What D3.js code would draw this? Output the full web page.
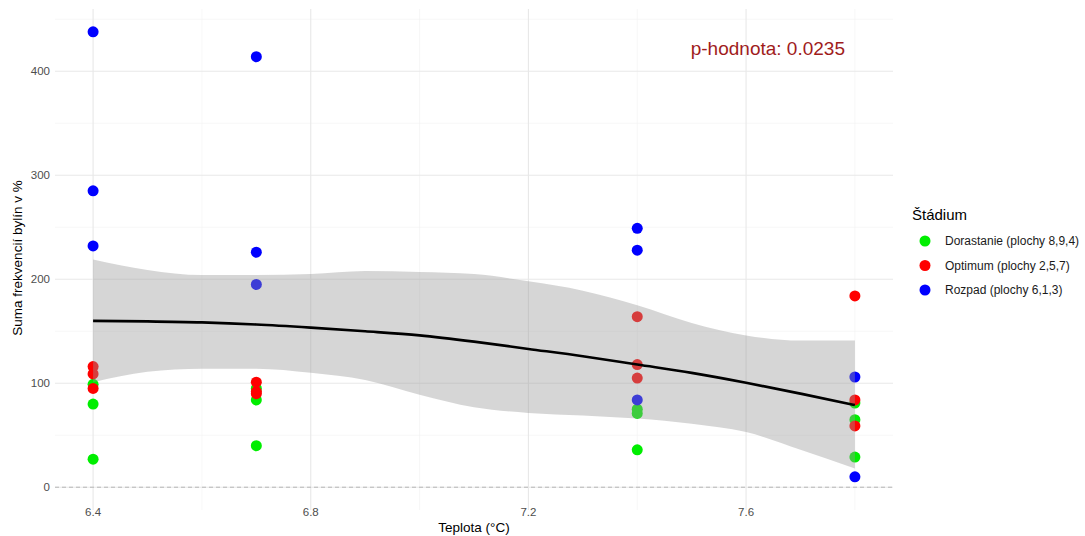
<!DOCTYPE HTML>
<html>
	<head>
		<title>Suma frekvencií bylín</title>
		<meta charset="UTF8">
		<script src="https://d3js.org/d3.v7.min.js"></script>
		<style>
			body
			{
				margin: 0;
				padding: 0;
				background: white;
				font-family: "Liberation Sans", Arial, sans-serif;
			}
		</style>
	</head>
	<body>
		<svg></svg>
	<script>
		const w = 1085;
		const h = 536;

		// values
		const stadia = ["Dorastanie (plochy 8,9,4)", "Optimum (plochy 2,5,7)", "Rozpad (plochy 6,1,3)"];
		const stadiumColors = ["#00ee00", "#ff0000", "#0000ff"];
		const dorastanie = [
			[6.4, 99], [6.4, 80], [6.4, 27],
			[6.7, 95], [6.7, 84], [6.7, 40],
			[7.4, 75], [7.4, 71], [7.4, 36],
			[7.8, 81], [7.8, 65], [7.8, 29]
		];
		const optimum = [
			[6.4, 116], [6.4, 109], [6.4, 95],
			[6.7, 101], [6.7, 92], [6.7, 90],
			[7.4, 164], [7.4, 118], [7.4, 105],
			[7.8, 184], [7.8, 84], [7.8, 59]
		];
		const rozpad = [
			[6.4, 438], [6.4, 285], [6.4, 232],
			[6.7, 414], [6.7, 226], [6.7, 195],
			[7.4, 249], [7.4, 228], [7.4, 84],
			[7.8, 106], [7.8, 10]
		];
		// loess fit with confidence band
		const fitX = [6.4, 6.5, 6.6, 6.7, 6.8, 6.9, 7.0, 7.1, 7.2, 7.3, 7.4, 7.5, 7.6, 7.7, 7.8];
		const fitY = [160, 159.5, 158.5, 156.5, 153.5, 150, 146, 140, 133, 126, 118, 110, 100.5, 90, 79];
		const fitUpper = [219, 209, 204, 204, 205, 208, 207, 205, 198, 189, 175, 158, 146, 141, 141];
		const fitLower = [101, 111, 114, 114, 110, 103, 89, 77, 71.5, 69, 66, 61, 53, 36, 18];
		const xTicks = [6.4, 6.8, 7.2, 7.6];
		const xMinor = [6.6, 7.0, 7.4, 7.8];
		const yTicks = [0, 100, 200, 300, 400];
		const yMinor = [50, 150, 250, 350, 450];
		const pLabel = "p-hodnota: 0.0235";

		const svg = d3.select("svg").attr("width", w).attr("height", h);

		const x = d3.scaleLinear().domain([6.33, 7.87]).range([55, 893]);
		const y = d3.scaleLinear().domain([-21.9, 459.9]).range([510, 9]);

		const grid = svg.append("g");
		grid.selectAll(".ymin").data(yMinor.filter(d => d < 459)).enter().append("line")
			.attr("x1", 55).attr("x2", 893)
			.attr("y1", d => y(d)).attr("y2", d => y(d))
			.attr("stroke", "#f2f2f2").attr("stroke-width", 0.6);
		grid.selectAll(".xmin").data(xMinor).enter().append("line")
			.attr("y1", 9).attr("y2", 510)
			.attr("x1", d => x(d)).attr("x2", d => x(d))
			.attr("stroke", "#f2f2f2").attr("stroke-width", 0.6);
		grid.selectAll(".ymaj").data(yTicks).enter().append("line")
			.attr("x1", 55).attr("x2", 893)
			.attr("y1", d => y(d)).attr("y2", d => y(d))
			.attr("stroke", "#e8e8e8").attr("stroke-width", 1.1);
		grid.selectAll(".xmaj").data(xTicks).enter().append("line")
			.attr("y1", 9).attr("y2", 510)
			.attr("x1", d => x(d)).attr("x2", d => x(d))
			.attr("stroke", "#e8e8e8").attr("stroke-width", 1.1);

		// dashed zero line
		svg.append("line")
			.attr("x1", 55).attr("x2", 893)
			.attr("y1", y(0)).attr("y2", y(0))
			.attr("stroke", "#b8b8b8").attr("stroke-width", 1)
			.attr("stroke-dasharray", "4,3");

		// axis labels
		svg.append("g").selectAll("text").data(xTicks).enter().append("text")
			.attr("x", d => x(d)).attr("y", 516)
			.attr("text-anchor", "middle")
			.attr("font-size", "11.5px").attr("fill", "#4d4d4d")
			.text(d => d.toFixed(1));
		svg.append("g").selectAll("text").data(yTicks).enter().append("text")
			.attr("x", 50).attr("y", d => y(d) + 4)
			.attr("text-anchor", "end")
			.attr("font-size", "11.5px").attr("fill", "#4d4d4d")
			.text(d => d);

		svg.append("text")
			.attr("x", (55 + 893) / 2).attr("y", 532)
			.attr("text-anchor", "middle")
			.attr("font-size", "13.5px")
			.text("Teplota (°C)");
		svg.append("text")
			.attr("transform", "translate(22," + 258 + ") rotate(-90)")
			.attr("text-anchor", "middle")
			.attr("font-size", "13.5px")
			.text("Suma frekvencií bylín v %");

		// points
		const series = [dorastanie, optimum, rozpad];
		series.forEach((s, i) => {
			svg.append("g").selectAll("circle").data(s).enter().append("circle")
				.attr("cx", d => x(d[0])).attr("cy", d => y(d[1]))
				.attr("r", 5.5)
				.attr("fill", stadiumColors[i]);
		});

		// smooth band and line drawn over the points
		const fit = fitX.map((d, i) => ({x: d, y: fitY[i], lo: fitLower[i], hi: fitUpper[i]}));
		svg.append("path")
			.datum(fit)
			.attr("d", d3.area().curve(d3.curveMonotoneX)
				.x(d => x(d.x)).y0(d => y(d.lo)).y1(d => y(d.hi)))
			.attr("fill", "#999999").attr("fill-opacity", 0.4);
		svg.append("path")
			.datum(fit)
			.attr("d", d3.line().curve(d3.curveMonotoneX)
				.x(d => x(d.x)).y(d => y(d.y)))
			.attr("fill", "none").attr("stroke", "black").attr("stroke-width", 2.6);

		// p-value annotation
		svg.append("text")
			.attr("x", x(7.64)).attr("y", y(422) + 7)
			.attr("text-anchor", "middle")
			.attr("font-size", "19px").attr("fill", "#a01c1c")
			.text(pLabel);

		// legend
		const legend = svg.append("g").attr("transform", "translate(912,0)");
		legend.append("text")
			.attr("x", 0).attr("y", 220)
			.attr("font-size", "15px")
			.text("Štádium");
		legend.selectAll("circle").data(stadia).enter().append("circle")
			.attr("cx", 13).attr("cy", (d, i) => 241 + i * 24.5)
			.attr("r", 5.5)
			.attr("fill", (d, i) => stadiumColors[i]);
		legend.selectAll(".lab").data(stadia).enter().append("text")
			.attr("x", 33).attr("y", (d, i) => 245 + i * 24.5)
			.attr("font-size", "12px").attr("fill", "#1a1a1a")
			.text(d => d);
	</script>
	</body>
</html>
